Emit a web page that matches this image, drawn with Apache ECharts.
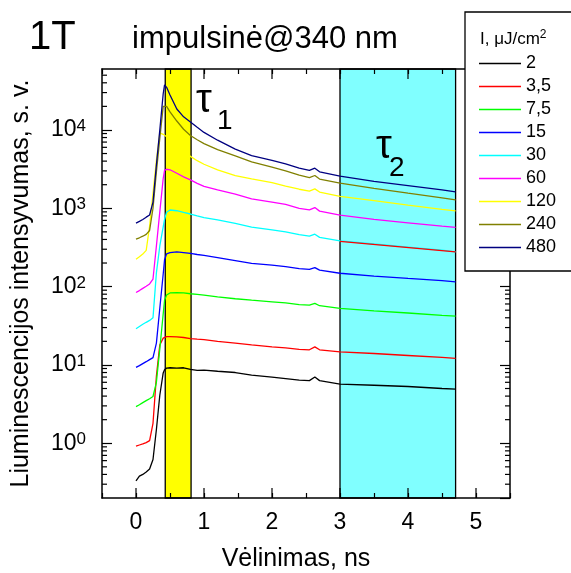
<!DOCTYPE html>
<html><head><meta charset="utf-8">
<script src="https://cdn.jsdelivr.net/npm/echarts@6/dist/echarts.min.js"></script>
<style>html,body{margin:0;padding:0;background:#fff}#c{width:571px;height:573px}</style>
</head><body><div id="c"></div>
<script>
// Delay (ns) sample points shared by all curves
const delays = [0,0.05,0.1,0.15,0.2,0.25,0.3,0.35,0.4,0.42,0.45,0.5,0.6,0.7,0.8,0.9,1.0,1.2,1.46,1.7,2.0,2.2,2.4,2.55,2.63,2.7,3.0,3.5,4.0,4.5,4.7];
// Excitation intensities (legend), µJ/cm²
const intensities = ['2','3,5','7,5','15','30','60','120','240','480'];
const colors = ['#000000','#FF0000','#00FF00','#0000FF','#00FFFF','#FF00FF','#FFFF00','#808000','#000080'];
// Luminescence intensity, a.u.
const i2   = [0.33,0.38,0.40,0.43,0.47,0.62,1.5,4.1,7.9,8.7,9.1,9.2,9.1,9.2,8.8,8.5,8.6,8.3,8.0,7.4,7.0,6.7,6.4,6.3,7.0,6.3,5.7,5.5,5.3,5.0,4.9];
const i3_5 = [0.92,0.95,0.98,1.02,1.08,1.8,7.2,18,22,22.8,23,23,22.8,22.4,21.7,21.3,21,20,19,18,17,16.5,15.8,15.6,17,15.6,14.7,14.0,13.2,12.5,12.1];
const i7_5 = [2.94,3.1,3.3,3.5,3.7,3.95,6,16,45,67,78,83,84,83,81,79.5,78,74,70,67,64,62,59,58,61,57,52.6,49,46,43,42];
const i15  = [9.3,9.8,10.4,11,11.7,12.4,19,53,145,220,262,272,277,272,265,257,250,235,215,198,188,180,170,166,175,162,148,136,127,119,115];
const i30  = [29,31,33,35,37,40,150,330,580,720,890,950,930,885,845,800,760,710,640,575,530,500,460,440,467,425,384,350,320,292,277];
const i60  = [84,89,95,101,108,125,330,900,2400,3050,3150,3100,2800,2520,2300,2080,1900,1720,1520,1320,1200,1120,1000,955,1020,920,820,720,650,590,569];
const i120 = [224,240,260,290,590,1550,4100,9200,8800,8600,8200,7600,6500,5400,4600,4050,3650,3100,2620,2370,2120,1920,1750,1660,1770,1610,1420,1250,1100,970,926];
const i240 = [403,420,440,465,520,1000,2900,7800,20000,21000,20000,17000,13000,10200,8500,7500,6700,5600,4670,3900,3350,3000,2650,2470,2620,2360,2090,1800,1560,1360,1280];
const i480 = [646,680,720,770,820,1200,3600,10000,29000,37700,35000,28000,18500,14700,12600,10800,9300,7400,5700,4700,4100,3700,3250,3050,3250,2920,2570,2200,1950,1720,1620];
const curves = [i2,i3_5,i7_5,i15,i30,i60,i120,i240,i480];
// Fit line in the tau2 window
const fitX = [3.0, 4.7];
const fitY = [377, 277];
// Shaded windows (ns)
const tau1Window = [0.43, 0.81];
const tau2Window = [3.0, 4.7];
// Axis ranges and ticks
const xMin = -0.5, xMax = 5.5;
const yMin = 0.2, yMax = 60000;
const xMajorTicks = [0,1,2,3,4,5];
const yMinorMult = [2,3,4,5,6,7,8,9];
const yDecades = [-1,0,1,2,3,4];

const FONT = '"Liberation Sans", Arial, sans-serif';
const chart = echarts.init(document.getElementById('c'), null, {renderer:'canvas'});

const tickData = [];
yDecades.forEach(k => yMinorMult.forEach(m => {
  const v = m * Math.pow(10, k);
  if (v > yMin * 1.01 && v < yMax * 0.99) tickData.push([xMin, v, 0]);
}));
xMajorTicks.forEach(x => tickData.push([x, yMin, 1]));

const series = curves.map((arr, i) => ({
  name: intensities[i], type: 'line', showSymbol: false, symbol: 'none',
  color: colors[i], lineStyle: {color: colors[i], width: 1.3}, itemStyle: {color: colors[i]},
  data: delays.map((x, j) => [x, arr[j]]), z: 2, animation: false
}));
series.unshift({
  name: 'bands', type: 'line', data: [[xMin, yMin]], showSymbol: false, symbol: 'none',
  lineStyle: {opacity: 0}, z: 1, silent: true,
  markArea: {silent: true, data: [
    [{xAxis: tau1Window[0], yAxis: yMin, itemStyle: {color: '#FFFF00', borderColor: '#000', borderWidth: 1.3}}, {xAxis: tau1Window[1], yAxis: yMax}],
    [{xAxis: tau2Window[0], yAxis: yMin, itemStyle: {color: '#80FFFF', borderColor: '#000', borderWidth: 1.3}}, {xAxis: tau2Window[1], yAxis: yMax}]
  ]}
});
series.push({
  name: 'fit', type: 'line', showSymbol: false, symbol: 'none',
  lineStyle: {color: '#FF0000', width: 1.3}, z: 3,
  data: fitX.map((x, j) => [x, fitY[j]])
});
series.push({
  name: 'ticks', type: 'custom', z: 5, clip: false, silent: true,
  data: tickData,
  renderItem: function (params, api) {
    const kind = api.value(2);
    const st = {stroke: '#000', lineWidth: 1.2};
    if (kind === 0) {
      const v = api.value(1);
      const l = api.coord([xMin, v]), r = api.coord([xMax, v]);
      return {type: 'group', children: [
        {type: 'line', shape: {x1: l[0], y1: l[1], x2: l[0] + 5, y2: l[1]}, style: st},
        {type: 'line', shape: {x1: r[0] - 5, y1: r[1], x2: r[0], y2: r[1]}, style: st}
      ]};
    } else {
      const x = api.value(0);
      const b = api.coord([x, yMin]), t = api.coord([x, yMax]);
      return {type: 'group', children: [
        {type: 'line', shape: {x1: b[0], y1: b[1], x2: b[0], y2: b[1] - 10}, style: st},
        {type: 'line', shape: {x1: t[0], y1: t[1], x2: t[0], y2: t[1] + 10}, style: st}
      ]};
    }
  }
});

const axLine = {show: true, onZero: false, lineStyle: {color: '#000', width: 1.5}};
const option = {
  animation: false,
  backgroundColor: '#fff',
  textStyle: {fontFamily: FONT},
  grid: {left: 102, right: 61, top: 69, bottom: 75, containLabel: false, outerBoundsMode: 'none'},
  xAxis: [{
    type: 'value', min: xMin, max: xMax, interval: 0.5, position: 'bottom', z: 4,
    axisLine: axLine, splitLine: {show: false},
    axisTick: {show: true, inside: true, length: 5, lineStyle: {color: '#000', width: 1.2}},
    axisLabel: {margin: 13, color: '#000', fontSize: 23, fontFamily: FONT,
      formatter: v => (Math.abs(v - Math.round(v)) < 1e-6 && v >= 0 && v <= 5) ? String(Math.round(v)) : ''},
    name: 'Vėlinimas, ns', nameLocation: 'middle', nameGap: 49,
    nameTextStyle: {fontSize: 25, color: '#000', fontFamily: FONT, padding: [0, 20, 0, 0]}
  }, {
    type: 'value', min: xMin, max: xMax, interval: 0.5, position: 'top', z: 4,
    axisLine: axLine, splitLine: {show: false},
    axisTick: {show: true, inside: true, length: 5, lineStyle: {color: '#000', width: 1.2}},
    axisLabel: {show: false}
  }],
  yAxis: [{
    type: 'log', logBase: 10, min: yMin, max: yMax, position: 'left', z: 4,
    axisLine: axLine, splitLine: {show: false},
    axisTick: {show: true, inside: true, length: 10, lineStyle: {color: '#000', width: 1.2}},
    axisLabel: {margin: 16, showMinLabel: false, showMaxLabel: false, color: '#000',
      formatter: v => '{b|10}{s|' + Math.round(Math.log10(v)) + '}',
      rich: {b: {fontSize: 23, lineHeight: 24, fontFamily: FONT, color: '#000'},
             s: {fontSize: 17, lineHeight: 16, verticalAlign: 'top', fontFamily: FONT, color: '#000'}}},
    name: 'Liuminescencijos intensyvumas, s. v.', nameLocation: 'middle', nameGap: 68, nameRotate: 90,
    nameTextStyle: {fontSize: 25, color: '#000', fontFamily: FONT}
  }, {
    type: 'log', logBase: 10, min: yMin, max: yMax, position: 'right', z: 4,
    axisLine: axLine, splitLine: {show: false},
    axisTick: {show: true, inside: true, length: 10, lineStyle: {color: '#000', width: 1.2}},
    axisLabel: {show: false}
  }],
  legend: {
    data: intensities, orient: 'vertical', left: 479, top: 52, padding: 0, z: 60,
    icon: 'rect', itemWidth: 42, itemHeight: 1.6, itemGap: 0,
    textStyle: {fontSize: 18, lineHeight: 23, color: '#000', fontFamily: FONT},
    selectedMode: false
  },
  graphic: [
    {type: 'rect', z: 50, shape: {x: 465, y: 12, width: 200, height: 259},
     style: {fill: '#fff', stroke: '#000', lineWidth: 1.3}},
    {type: 'text', z: 60, style: {text: '{a|I, μJ/cm}{s|2}', x: 480, y: 39, verticalAlign: 'middle',
      rich: {a: {fontSize: 17, lineHeight: 20, fontFamily: FONT, fill: '#000'},
             s: {fontSize: 12, lineHeight: 12, verticalAlign: 'top', fontFamily: FONT, fill: '#000'}}}},
    {type: 'text', z: 60, style: {text: '1T', x: 29, y: 38, verticalAlign: 'middle', font: '40px ' + FONT, fill: '#000'}},
    {type: 'text', z: 60, style: {text: 'impulsinė@340 nm', x: 265, y: 39, align: 'center', verticalAlign: 'middle', font: '31px ' + FONT, fill: '#000'}},
    {type: 'text', z: 60, style: {text: 'τ', x: 196, y: 101, verticalAlign: 'middle', font: '40px ' + FONT, fill: '#000'}},
    {type: 'text', z: 60, style: {text: '1', x: 217, y: 121, verticalAlign: 'middle', font: '28px ' + FONT, fill: '#000'}},
    {type: 'text', z: 60, style: {text: 'τ', x: 376, y: 147, verticalAlign: 'middle', font: '40px ' + FONT, fill: '#000'}},
    {type: 'text', z: 60, style: {text: '2', x: 389, y: 168, verticalAlign: 'middle', font: '28px ' + FONT, fill: '#000'}}
  ],
  series: series
};
chart.setOption(option);
</script></body></html>
